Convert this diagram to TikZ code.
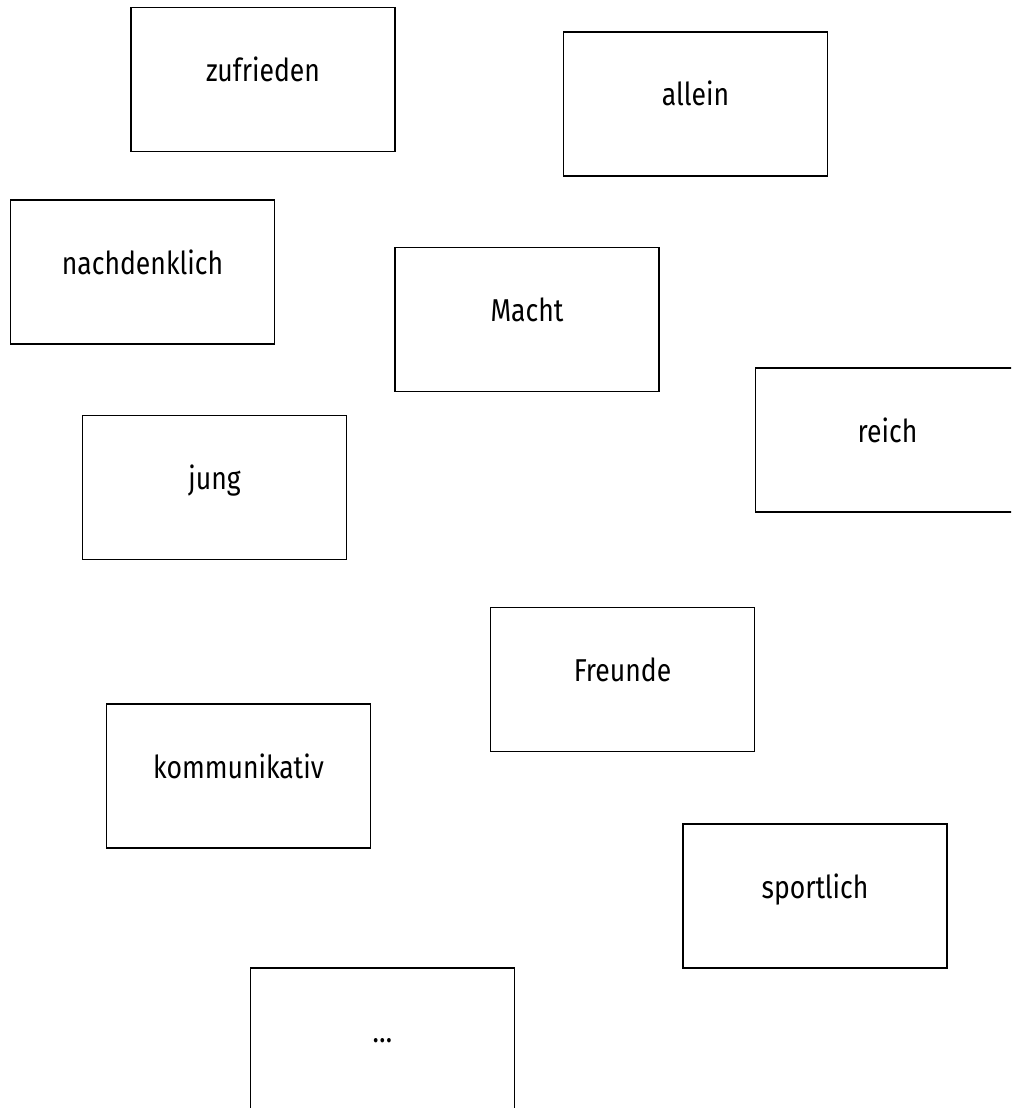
\documentclass[tikz,border=0pt]{standalone}
\usepackage{fontspec}
\setsansfont[FakeStretch=0.84]{Fira Sans}
\usetikzlibrary{positioning}
\definecolor{ink}{HTML}{000000}
\tikzset{
  font=\sffamily\fontsize{18}{22}\selectfont,
  %
  card/.style={
    draw=ink, line width=1pt, fill=white, text=ink, align=center,
    minimum width=5.28cm, minimum height=2.88cm, inner sep=0pt,
    text height=0.3cm, text depth=0.22cm,
  },
}
\begin{document}
\begin{tikzpicture}[x=0.02cm, y=-0.02cm]

  \useasboundingbox[fill=white] (0,0) rectangle (1011,1108);
  \clip (0,0) rectangle (1011,1108);

  \node[card] (zufrieden)    at (263,79.5)   {zufrieden};
  \node[card] (allein)       at (695.5,104)  {allein};
  \node[card] (nachdenklich) at (142.5,272)  {nachdenklich};
  \node[card] (macht)        at (527,319.5)  {Macht};
  \node[card] (reich)        at (887.5,440)  {reich};
  \node[card] (jung)         at (214.5,487.5) {jung};
  \node[card] (freunde)      at (622.5,679.5) {Freunde};
  \node[card] (kommunikativ) at (238.5,776)  {kommunikativ};
  \node[card] (sportlich)    at (815,896)    {sportlich};
  % last card runs off the page
  \node[card] (weitere)      at (382.5,1040) {\dots};

\end{tikzpicture}
\end{document}
